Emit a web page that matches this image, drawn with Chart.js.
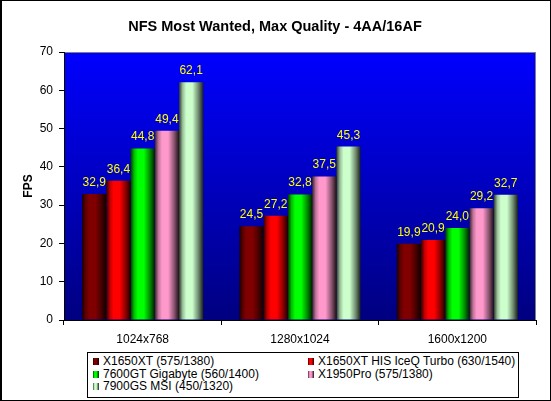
<!DOCTYPE html>
<html>
<head>
<meta charset="utf-8">
<script src="https://cdn.jsdelivr.net/npm/chart.js@4/dist/chart.umd.min.js"></script>
<style>
  html, body { margin: 0; padding: 0; background: #fff; }
  #wrap { position: relative; width: 551px; height: 401px; }
  #legend {
    position: absolute; left: 87px; top: 352px; width: 432px; height: 46px;
    border: 1px solid #000; box-sizing: border-box; background: #fff;
    font: 12px "Liberation Sans", Arial, sans-serif; color: #000;
  }
  #legend .item { position: absolute; white-space: nowrap; line-height: 13px; }
  #legend .box { display: inline-block; width: 6px; height: 7px; margin-right: 4px; vertical-align: 0px; }
</style>
</head>
<body>
<div id="wrap">
  <canvas id="c" width="551" height="401"></canvas>
  <div id="legend"></div>
</div>
<script>
const categories = ['1024x768', '1280x1024', '1600x1200'];
const seriesNames = ['X1650XT (575/1380)', 'X1650XT HIS IceQ Turbo (630/1540)', '7600GT Gigabyte (560/1400)', 'X1950Pro (575/1380)', '7900GS MSI (450/1320)'];
const x1650xt = [32.9, 24.5, 19.9];
const x1650xtHis = [36.4, 27.2, 20.9];
const gt7600 = [44.8, 32.8, 24.0];
const x1950pro = [49.4, 37.5, 29.2];
const gs7900 = [62.1, 45.3, 32.7];
const yTicks = [0, 10, 20, 30, 40, 50, 60, 70];
const baseColors = [[128, 0, 0], [255, 0, 0], [0, 255, 0], [255, 153, 204], [204, 255, 204]];

const FONT = '"Liberation Sans", Arial, sans-serif';
const seriesValues = [x1650xt, x1650xtHis, gt7600, x1950pro, gs7900];

function rgb(c, f) {
  return 'rgb(' + c.map(v => Math.round(v * f)).join(',') + ')';
}
const shadeStops = [[0, 0.2], [0.15, 0.75], [0.3, 1], [0.55, 1], [0.8, 0.55], [1, 0.12]];

function cssGradient(c) {
  return 'linear-gradient(to right,' + shadeStops.map(s => rgb(c, s[1]) + ' ' + (s[0] * 100) + '%').join(',') + ')';
}

// legend as html, two columns
const legendEl = document.getElementById('legend');
const legendPos = [[5, 2], [220, 2], [5, 14.5], [220, 14.5], [5, 27]];
seriesNames.forEach((name, i) => {
  const d = document.createElement('div');
  d.className = 'item';
  d.style.left = legendPos[i][0] + 'px';
  d.style.top = legendPos[i][1] + 'px';
  d.innerHTML = '<span class="box" style="background:' + cssGradient(baseColors[i]) + '"></span>' + name;
  legendEl.appendChild(d);
});

const decor = {
  id: 'decor',
  beforeDraw(chart) {
    const { ctx, chartArea: a } = chart;
    ctx.save();
    ctx.fillStyle = '#fff';
    ctx.fillRect(0, 0, chart.width, chart.height);
    const g = ctx.createLinearGradient(0, a.top, 0, a.bottom);
    g.addColorStop(0, '#0000ff');
    g.addColorStop(1, '#000080');
    ctx.fillStyle = g;
    ctx.fillRect(a.left, a.top, a.right - a.left, a.bottom - a.top);
    ctx.strokeStyle = '#808080';
    ctx.lineWidth = 1;
    ctx.strokeRect(a.left + 0.5, a.top + 0.5, a.right - a.left - 1, a.bottom - a.top);
    ctx.fillStyle = '#000';
    ctx.font = 'bold 14.5px ' + FONT;
    ctx.textAlign = 'center';
    ctx.textBaseline = 'middle';
    ctx.fillText('NFS Most Wanted, Max Quality - 4AA/16AF', 275, 27);
    ctx.restore();
  },
  beforeDatasetsDraw(chart) {
    const ctx = chart.ctx;
    chart.data.datasets.forEach((ds, di) => {
      const meta = chart.getDatasetMeta(di);
      meta.data.forEach(el => {
        const x0 = el.x - el.width / 2;
        const g = ctx.createLinearGradient(x0, 0, x0 + el.width, 0);
        shadeStops.forEach(s => g.addColorStop(s[0], rgb(baseColors[di], s[1])));
        el.options = Object.assign({}, el.options, { backgroundColor: g });
      });
    });
  },
  afterDatasetsDraw(chart) {
    const ctx = chart.ctx;
    ctx.save();
    ctx.fillStyle = '#ffff00';
    ctx.font = '12px ' + FONT;
    ctx.textAlign = 'center';
    ctx.textBaseline = 'alphabetic';
    chart.data.datasets.forEach((ds, di) => {
      chart.getDatasetMeta(di).data.forEach((el, i) => {
        ctx.fillText(ds.data[i].toFixed(1).replace('.', ','), el.x, el.y - 8);
      });
    });
    ctx.restore();
  },
  afterDraw(chart) {
    const ctx = chart.ctx;
    ctx.save();
    ctx.strokeStyle = '#000';
    ctx.lineWidth = 1;
    ctx.strokeRect(0.5, 0.5, chart.width - 1, chart.height - 1);
    ctx.fillStyle = '#000';
    ctx.fillRect(0, 0, 2, chart.height);
    ctx.restore();
  }
};

new Chart(document.getElementById('c'), {
  type: 'bar',
  data: {
    labels: categories,
    datasets: seriesNames.map((name, i) => ({
      label: name,
      data: seriesValues[i],
      backgroundColor: () => rgb(baseColors[i], 1),
      borderWidth: 0,
      categoryPercentage: 0.77,
      barPercentage: 1
    }))
  },
  options: {
    responsive: false, animation: false, devicePixelRatio: 1,
    layout: { padding: { top: 52, right: 15, left: 0, bottom: 0 } },
    plugins: { legend: { display: false }, title: { display: false }, tooltip: { enabled: false } },
    scales: {
      x: {
        afterFit: s => { s.height = 81; },
        grid: { drawOnChartArea: false, drawTicks: true, tickLength: 5, color: '#000', offset: true },
        border: { color: '#000' },
        ticks: { color: '#000', font: { family: FONT, size: 12 }, padding: 7 }
      },
      y: {
        min: 0, max: 70,
        afterFit: s => { s.width = 64; },
        afterBuildTicks: s => { s.ticks = yTicks.map(v => ({ value: v })); },
        grid: { drawOnChartArea: false, drawTicks: true, tickLength: 5, color: '#000' },
        border: { color: '#000' },
        ticks: { color: '#000', font: { family: FONT, size: 12 }, padding: 6 },
        title: { display: true, text: 'FPS', color: '#000', font: { family: FONT, size: 12, weight: 'bold' }, padding: { top: 21, bottom: 0 } }
      }
    }
  },
  plugins: [decor]
});
</script>
</body>
</html>
